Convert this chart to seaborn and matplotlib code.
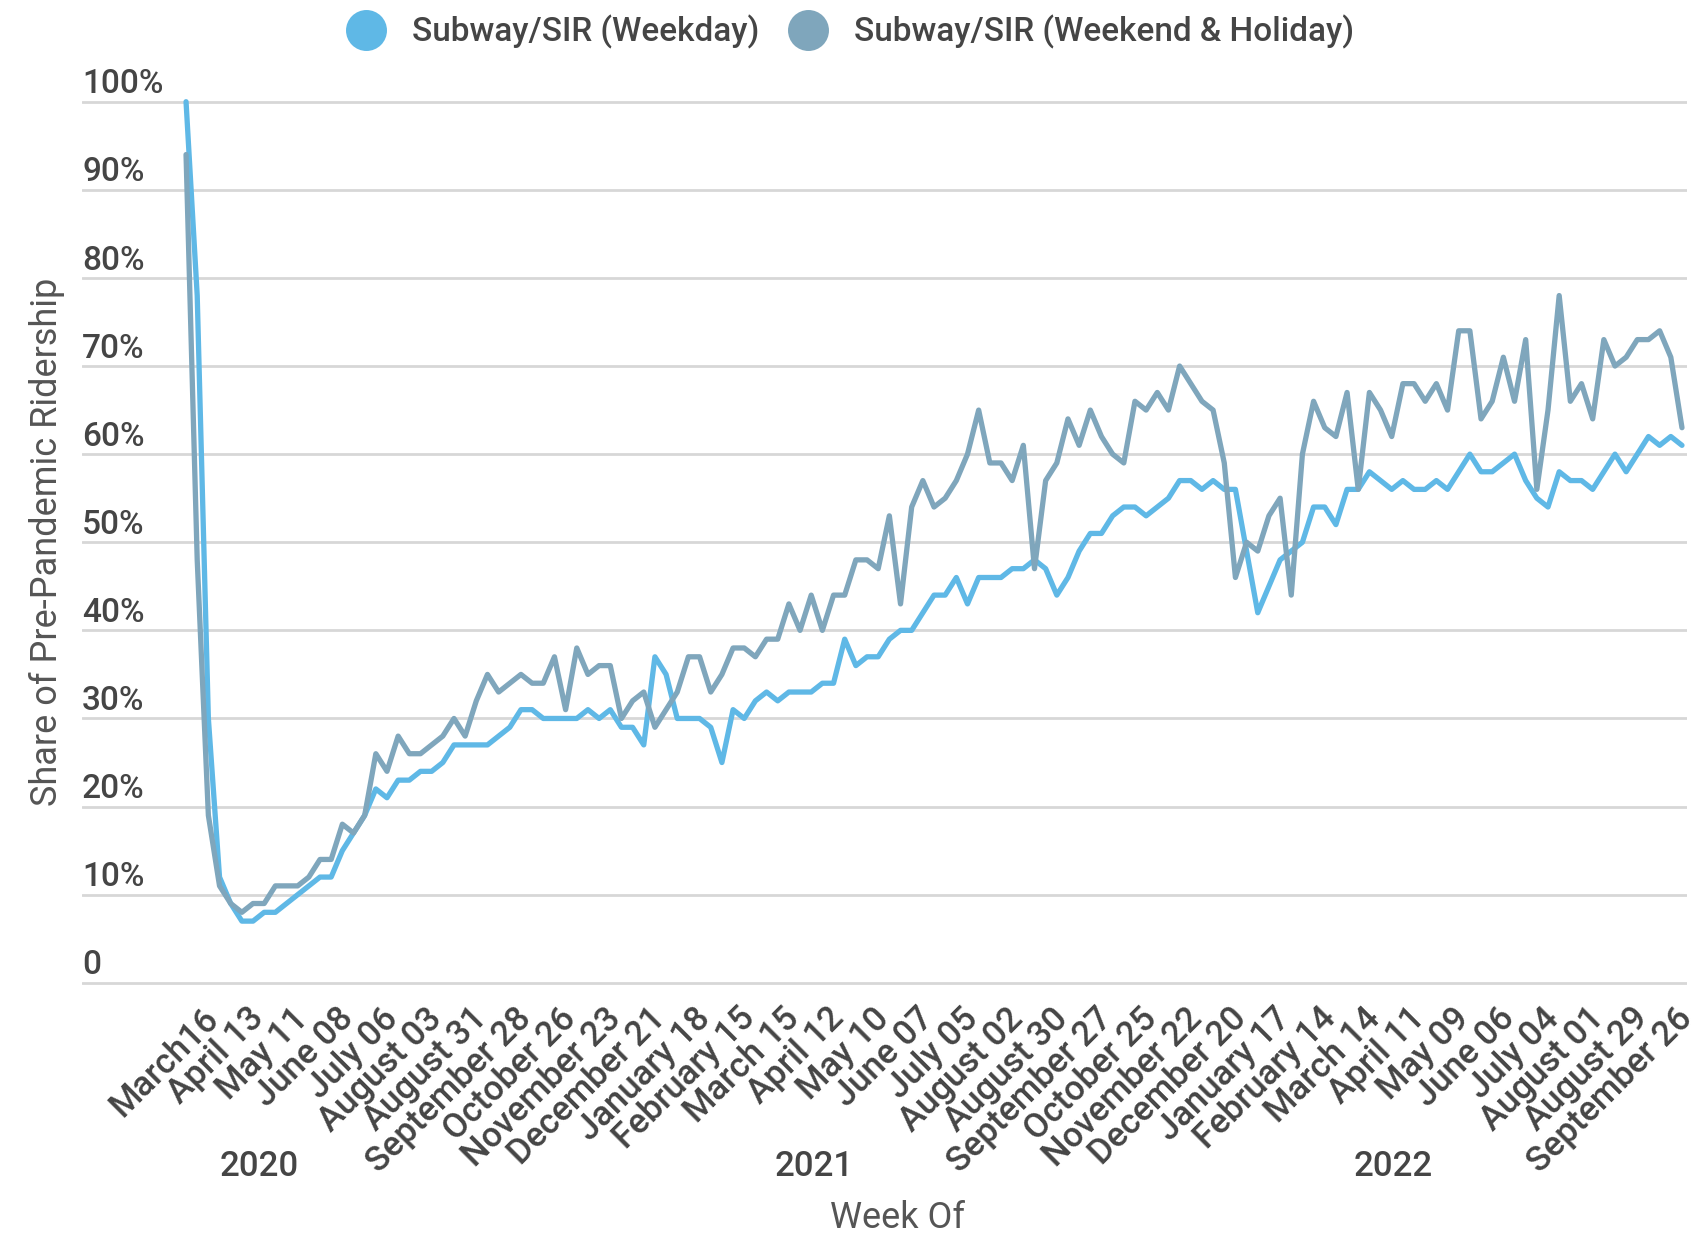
import numpy as np
import pandas as pd
import matplotlib
matplotlib.use("Agg")
import matplotlib.pyplot as plt
import seaborn as sns
from matplotlib.lines import Line2D
from matplotlib import transforms

# ---------------- data (share of pre-pandemic ridership, %) ----------------
weekday = [100, 78, 30, 12, 9, 7, 7, 8, 8, 9, 10, 11, 12, 12, 15, 17, 19, 22, 21, 23,
           23, 24, 24, 25, 27, 27, 27, 27, 28, 29, 31, 31, 30, 30, 30, 30, 31, 30, 31, 29,
           29, 27, 37, 35, 30, 30, 30, 29, 25, 31, 30, 32, 33, 32, 33, 33, 33, 34, 34, 39,
           36, 37, 37, 39, 40, 40, 42, 44, 44, 46, 43, 46, 46, 46, 47, 47, 48, 47, 44, 46,
           49, 51, 51, 53, 54, 54, 53, 54, 55, 57, 57, 56, 57, 56, 56, 49, 42, 45, 48, 49,
           50, 54, 54, 52, 56, 56, 58, 57, 56, 57, 56, 56, 57, 56, 58, 60, 58, 58, 59, 60,
           57, 55, 54, 58, 57, 57, 56, 58, 60, 58, 60, 62, 61, 62, 61]

weekend = [94, 48, 19, 11, 9, 8, 9, 9, 11, 11, 11, 12, 14, 14, 18, 17, 19, 26, 24, 28,
           26, 26, 27, 28, 30, 28, 32, 35, 33, 34, 35, 34, 34, 37, 31, 38, 35, 36, 36, 30,
           32, 33, 29, 31, 33, 37, 37, 33, 35, 38, 38, 37, 39, 39, 43, 40, 44, 40, 44, 44,
           48, 48, 47, 53, 43, 54, 57, 54, 55, 57, 60, 65, 59, 59, 57, 61, 47, 57, 59, 64,
           61, 65, 62, 60, 59, 66, 65, 67, 65, 70, 68, 66, 65, 59, 46, 50, 49, 53, 55, 44,
           60, 66, 63, 62, 67, 56, 67, 65, 62, 68, 68, 66, 68, 65, 74, 74, 64, 66, 71, 66,
           73, 56, 65, 78, 66, 68, 64, 73, 70, 71, 73, 73, 74, 71, 63]

series_names = ["Subway/SIR (Weekday)", "Subway/SIR (Weekend & Holiday)"]

tick_labels = ["March16", "April 13", "May 11", "June 08", "July 06", "August 03",
               "August 31", "September 28", "October 26", "November 23", "December 21",
               "January 18", "February 15", "March 15", "April 12", "May 10", "June 07",
               "July 05", "August 02", "August 30", "September 27", "October 25",
               "November 22", "December 20", "January 17", "February 14", "March 14",
               "April 11", "May 09", "June 06", "July 04", "August 01", "August 29",
               "September 26"]

years = ["2020", "2021", "2022"]

y_ticks = [0, 10, 20, 30, 40, 50, 60, 70, 80, 90, 100]
y_tick_labels = ["0", "10%", "20%", "30%", "40%", "50%", "60%", "70%", "80%", "90%", "100%"]

# ---------------- layout / style ----------------
W, H = 1695, 1237
colors = ["#5fb8e6", "#7fa6bc"]
text_color = "#454545"
label_color = "#555555"
year_pos = [6.6, 56.3, 108.1]          # x positions (week index) of year captions
first_tick, tick_step = 2, 4

n = len(weekday)
week = np.arange(n)
df = pd.DataFrame({
    "week": np.concatenate([week, week]),
    "share": weekday + weekend,
    "series": [series_names[0]] * n + [series_names[1]] * n,
})

sns.set_theme(style="white")
plt.rcParams["font.family"] = ["Roboto", "DejaVu Sans"]

fig = plt.figure(figsize=(W / 100, H / 100), dpi=100)
ax = fig.add_axes([82 / W, 1 - 985 / H, (1687 - 82) / W, (985 - 99.5) / H])

sns.lineplot(data=df, x="week", y="share", hue="series", hue_order=series_names,
             palette=colors, linewidth=3.8, ax=ax, legend=False, clip_on=False)

ax.set_xlim(-9.32, 134.45)
ax.set_ylim(-0.25, 100.25)

for s in ax.spines.values():
    s.set_visible(False)

# y grid + labels above the lines
ax.set_yticks(y_ticks)
ax.set_yticklabels([])
ax.tick_params(axis="y", length=0)
ax.grid(axis="y", color="#d7d7d7", linewidth=2.0)
ax.grid(axis="x", visible=False)
for v, lab in zip(y_ticks, y_tick_labels):
    ax.annotate(lab, xy=(0, v), xycoords=("axes fraction", "data"),
                xytext=(0, 6), textcoords="offset points",
                ha="left", va="baseline", fontsize=24, fontweight="medium",
                color=text_color)

# x ticks
ax.set_xticks(np.arange(first_tick, n, tick_step))
ax.set_xticklabels(tick_labels, rotation=45, ha="right", va="top",
                   rotation_mode="anchor", fontsize=25, fontweight="medium",
                   color=text_color)
ax.tick_params(axis="x", length=0, pad=12)
offset = transforms.ScaledTranslation(-6 / 100, 0, fig.dpi_scale_trans)
for lab in ax.get_xticklabels():
    lab.set_transform(lab.get_transform() + offset)

ax.set_xlabel("")
ax.set_ylabel("")

# year captions
blend = transforms.blended_transform_factory(ax.transData, ax.transAxes)
for xp, yr in zip(year_pos, years):
    ax.text(xp, -0.2055, yr, transform=blend, ha="center", va="center",
            fontsize=25, fontweight="medium", color=text_color)

ax.set_xlabel("Week Of", fontsize=26, color=label_color)
ax.xaxis.set_label_coords(0.508, -0.243)
ax.set_ylabel("Share of Pre-Pandemic Ridership", fontsize=26, color=label_color)
ax.yaxis.set_label_coords(-0.0106, 0.5)

# legend
handles = [Line2D([], [], marker="o", linestyle="", markersize=29.5,
                  markerfacecolor=c, markeredgewidth=0) for c in colors]
leg = fig.legend(handles, series_names, loc="center",
                 bbox_to_anchor=(0.5015, 1 - 32 / H), ncol=2, frameon=False,
                 fontsize=24, handlelength=1.2, handletextpad=0.78,
                 columnspacing=0.85, labelcolor=text_color)
for t in leg.get_texts():
    t.set_fontweight("medium")

fig.savefig("out.png", dpi=100)
